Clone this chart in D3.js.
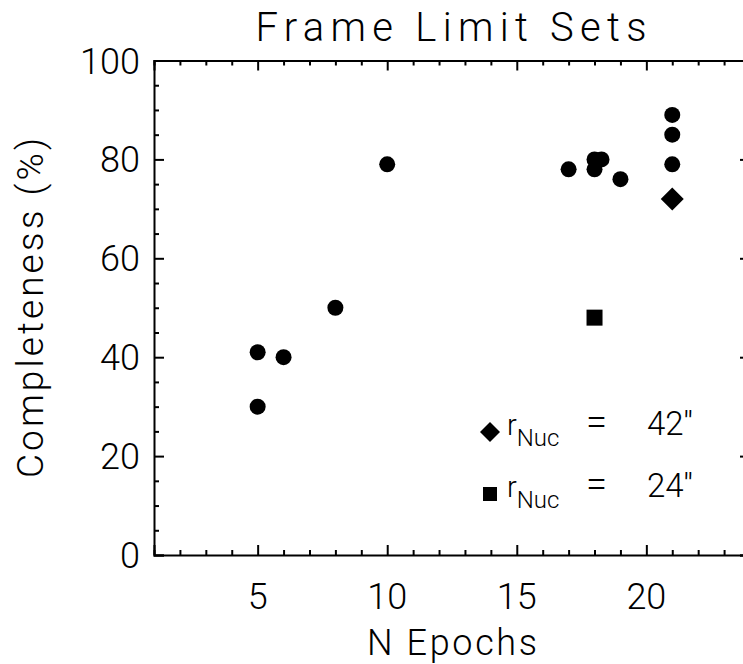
<!DOCTYPE html>
<html>
<head>
<meta charset="utf-8">
<script src="https://cdn.jsdelivr.net/npm/d3@7"></script>
<style>
  html, body { margin: 0; padding: 0; background: #fff; }
  svg { display: block; }
  text { font-family: Roboto, "DejaVu Sans", sans-serif; font-weight: 300; fill: #000; }
</style>
</head>
<body>
<script>
// ---- data ----
const circleEpochs = [5, 5, 6, 8, 10, 17, 18, 18.27, 18, 19, 21, 21, 21];
const circleCompleteness = [41, 30, 40, 50, 79, 78, 80, 80, 78, 76, 89, 85, 79];
const diamondEpochs = [21];
const diamondCompleteness = [72];
const squareEpochs = [18];
const squareCompleteness = [48];
const xTickValues = [5, 10, 15, 20];
const yTickValues = [0, 20, 40, 60, 80, 100];
const legendLabels = ["42''", "24''"];

const W = 743, H = 664;

const svg = d3.select("body").append("svg").attr("width", W).attr("height", H);

const x = d3.scaleLinear().domain([1, 24]).range([154, 750]);
const y = d3.scaleLinear().domain([0, 100]).range([555, 60.5]);

const g = svg.append("g");

const xMinor = d3.range(1, 25, 1).filter(v => !xTickValues.includes(v));
const yMinor = d3.range(0, 101, 5).filter(v => !yTickValues.includes(v));

function styleAxis(sel) {
  sel.selectAll("path").attr("stroke", "#000").attr("stroke-width", 2);
  sel.selectAll("line").attr("stroke", "#000").attr("stroke-width", 2);
}

const bMinor = g.append("g").attr("transform", `translate(0,${y(0)})`)
  .call(d3.axisTop(x).tickValues(xMinor).tickSize(5).tickFormat(""));
const bMajor = g.append("g").attr("transform", `translate(0,${y(0)})`)
  .call(d3.axisTop(x).tickValues(xTickValues).tickSize(10).tickFormat(""));
const tMinor = g.append("g").attr("transform", `translate(0,${y(100)})`)
  .call(d3.axisBottom(x).tickValues(xMinor).tickSize(5).tickFormat(""));
const tMajor = g.append("g").attr("transform", `translate(0,${y(100)})`)
  .call(d3.axisBottom(x).tickValues(xTickValues).tickSize(10).tickFormat(""));
const lMinor = g.append("g").attr("transform", `translate(${x(1)},0)`)
  .call(d3.axisRight(y).tickValues(yMinor).tickSize(5).tickFormat(""));
const lMajor = g.append("g").attr("transform", `translate(${x(1)},0)`)
  .call(d3.axisRight(y).tickValues(yTickValues).tickSize(10).tickFormat(""));
const rMinor = g.append("g").attr("transform", `translate(${x(24)},0)`)
  .call(d3.axisLeft(y).tickValues(yMinor).tickSize(5).tickFormat(""));
const rMajor = g.append("g").attr("transform", `translate(${x(24)},0)`)
  .call(d3.axisLeft(y).tickValues(yTickValues).tickSize(10).tickFormat(""));

[bMinor, bMajor, tMinor, tMajor, lMinor, lMajor, rMinor, rMajor].forEach(styleAxis);
[bMinor, tMinor, lMinor, rMinor].forEach(s => s.select("path").remove());

// tick labels
g.selectAll(".xlab").data(xTickValues).enter().append("text")
  .attr("x", d => x(d)).attr("y", 609)
  .attr("text-anchor", "middle").attr("font-size", 36)
  .text(d => d);
g.selectAll(".ylab").data(yTickValues).enter().append("text")
  .attr("x", 140).attr("y", d => y(d) + 13)
  .attr("text-anchor", "end").attr("font-size", 36)
  .text(d => d);

// titles
svg.append("text").attr("x", 451).attr("y", 41).attr("text-anchor", "middle")
  .attr("font-size", 40).attr("textLength", 391).attr("lengthAdjust", "spacing")
  .text("Frame Limit Sets");
svg.append("text").attr("x", 452).attr("y", 655).attr("text-anchor", "middle")
  .attr("font-size", 36).attr("textLength", 170).attr("lengthAdjust", "spacing")
  .text("N Epochs");
svg.append("text").attr("transform", "translate(43,308) rotate(-90)")
  .attr("text-anchor", "middle").attr("font-size", 37)
  .attr("textLength", 340).attr("lengthAdjust", "spacing")
  .text("Completeness (%)");

// data marks
const circles = circleEpochs.map((e, i) => ({ e, c: circleCompleteness[i] }));
g.selectAll(".pt").data(circles).enter().append("circle")
  .attr("cx", d => x(d.e)).attr("cy", d => y(d.c)).attr("r", 8).attr("fill", "#000");

const diamonds = diamondEpochs.map((e, i) => ({ e, c: diamondCompleteness[i] }));
g.selectAll(".dm").data(diamonds).enter().append("path")
  .attr("transform", d => `translate(${x(d.e)},${y(d.c)})`)
  .attr("d", "M0,-11.5L11.5,0L0,11.5L-11.5,0Z").attr("fill", "#000");

const squares = squareEpochs.map((e, i) => ({ e, c: squareCompleteness[i] }));
g.selectAll(".sq").data(squares).enter().append("rect")
  .attr("x", d => x(d.e) - 8).attr("y", d => y(d.c) - 8)
  .attr("width", 16).attr("height", 16).attr("fill", "#000");

// legend
const legend = svg.append("g");
const legY = [432, 494];
legend.append("path").attr("transform", `translate(490,${legY[0]})`)
  .attr("d", "M0,-10L10,0L0,10L-10,0Z").attr("fill", "#000");
legend.append("rect").attr("x", 483).attr("y", legY[1] - 7).attr("width", 14).attr("height", 14).attr("fill", "#000");
legendLabels.forEach((lab, i) => {
  const t = legend.append("text").attr("x", 507).attr("y", legY[i] + 3).attr("font-size", 29);
  t.append("tspan").text("r");
  t.append("tspan").attr("dy", 11).attr("font-size", 24).text("Nuc");
  t.append("tspan").attr("x", 586).attr("font-size", 38).attr("dy", -11).text("=");
  t.append("tspan").attr("x", 647).attr("font-size", 33).text(lab);
});
</script>
</body>
</html>
